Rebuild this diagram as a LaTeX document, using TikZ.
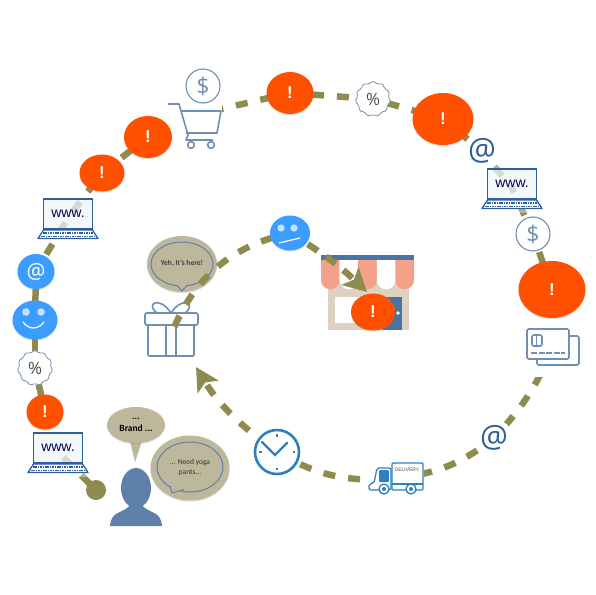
\documentclass[tikz,border=0pt]{standalone}
\usepackage{fontspec}
\setmainfont{Carlito}
\newfontfamily\labelfont{Liberation Sans}
\newfontfamily\iconfont{Open Sans}
\usetikzlibrary{arrows.meta, shapes.geometric, shadows}

\definecolor{flowc}{HTML}{8F8B4F}
\definecolor{bubblec}{HTML}{BDB89B}
\definecolor{alertc}{HTML}{FF5000}
\definecolor{facec}{HTML}{3B9DFF}
\definecolor{iconc}{HTML}{6F8FB3}
\definecolor{laptopc}{HTML}{2F5F9A}
\definecolor{screenc}{HTML}{EAF3FB}
\definecolor{clockc}{HTML}{2E7FBD}
\definecolor{personc}{HTML}{5F80A9}
\definecolor{salmonc}{HTML}{F4A18A}
\definecolor{beigec}{HTML}{DDD2C2}
\definecolor{storec}{HTML}{4A74A6}

\pgfdeclarelayer{back}
\pgfdeclarelayer{front}
\pgfsetlayers{back,main,front}

\tikzset{
    softshadow/.style={drop shadow={opacity=.25, shadow xshift=0pt, shadow yshift=-1.2pt}},
    flow/.style={draw=flowc, line width=6.5pt, dash pattern=on 12pt off 13pt},
    flowtip/.style={-{Stealth[length=23pt, width=24pt, inset=5pt]}},
    alertnode/.style 2 args={ellipse, fill=alertc, text=white, inner sep=0pt, minimum width=#1pt, minimum height=#2pt,
        font=\labelfont\bfseries\fontsize{17}{17}\selectfont, softshadow},
    facenode/.style 2 args={ellipse, fill=facec, inner sep=0pt, minimum width=#1pt, minimum height=#2pt, softshadow},
    atsign/.style={circle, fill=white, inner sep=0pt, minimum size=30pt, text=laptopc, font=\iconfont\fontsize{31}{31}\selectfont},
    burst/.style={star, star points=11, star point ratio=1.16, minimum size=36pt, inner sep=0pt, rounded corners=1.5pt,
        draw=iconc, line width=.8pt, fill=white, text=black!70, font=\iconfont\fontsize{17}{17}\selectfont},
    coin/.style={circle, draw=iconc, line width=1.1pt, fill=white, minimum size=34pt, inner sep=0pt, text=iconc,
        font=\iconfont\fontsize{23}{23}\selectfont},
    iconbox/.style 2 args={rectangle, inner sep=0pt, minimum width=#1pt, minimum height=#2pt},
    glassbox/.style={iconbox={66}{50}, fill=white, fill opacity=.35},
    bubble/.style 2 args={ellipse, fill=bubblec, inner sep=0pt, minimum width=#1pt, minimum height=#2pt, align=center,
        softshadow},
    bubbleline/.style={draw=personc, line width=1pt},
    iconline/.style={draw=iconc, line width=1.6pt, line join=round},
    laptop/.pic={
        \draw[laptopc, line width=1.6pt, fill=screenc, fill opacity=.6] (-24.5,-19) rectangle (24.5,11);
        \draw[laptopc, line width=1.3pt, fill=white, line join=round] (-24.5,12) -- (-30,20.5) -- (30,20.5) -- (24.5,12) -- cycle;
        \draw[laptopc, line width=1.8pt, dash pattern=on 1.6pt off .8pt] (-25,15) -- (25,15);
        \draw[laptopc, line width=1.8pt, dash pattern=on 1.6pt off .8pt] (-27,18.5) -- (27,18.5);
        \node[text=black!70!blue, font=\labelfont\fontsize{14}{14}\selectfont] (-www) at (0,-4) {www.};
    },
    cartpic/.pic={
        \draw[iconline] (-27,-11) -- (-16,-11) -- (-7,20) -- (-9,25) -- (18,25);
        \draw[iconline] (-13,-4) -- (26,-4) -- (22,18) -- (-9,18);
        \draw[iconline] (-4,30) circle (3.4);
        \draw[iconline] (16,30) circle (3.4);
    },
    cardspic/.pic={
        \draw[iconline, fill=white, rounded corners=1.5pt] (-16,-11) rectangle (26,18);
        \draw[iconline, fill=white, rounded corners=1.5pt] (-26,-18) rectangle (16,12);
        \draw[iconline, rounded corners=2pt] (-21,-12) rectangle (-11,-1);
        \draw[iconline, line width=1pt] (-17,-12) -- (-17,-1);
        \draw[iconline, dash pattern=on 6pt off 1.5pt] (-22,6) -- (12,6);
    },
    giftpic/.pic={
        \draw[iconline, rounded corners=1pt] (-23,-10) rectangle (23,21);
        \draw[iconline, fill=white, rounded corners=1.5pt] (-26,-22) rectangle (27,-10);
        \draw[iconline] (-5,-10) -- (-5,21);
        \draw[iconline] (5,-10) -- (5,21);
        \draw[iconline] (0,-22) .. controls (-12,-40) and (-26,-31) .. (-14,-22);
        \draw[iconline] (0,-22) .. controls (12,-40) and (26,-31) .. (14,-22);
    },
    storepic/.pic={
        \fill[beigec] (-39,-12) rectangle (42,38);
        \fill[white] (-32,5) rectangle (8,31);
        \fill[storec] (15,5) rectangle (35,38);
        \fill[white] (31,21) circle (1.8);
        \foreach \sx/\sc in {-46/salmonc, -27.4/white, -8.8/salmonc, 9.8/white, 28.4/salmonc}
            \fill[\sc] (\sx,-32) -- ++(18.6,0) -- ++(0,20) arc (0:180:9.3) -- cycle;
        \fill[storec] (-46,-37) rectangle (47,-32);
    },
    clockpic/.pic={
        \foreach \ang in {0,90,180,270}
            \draw[clockc, line width=1.6pt] (\ang:15.5) -- (\ang:18);
        \draw[clockc, line width=2.2pt, line cap=round] (-15,-10) -- (-2,3) -- (10,-9);
    },
    truckpic/.pic={
        \draw[clockc, line width=1.2pt, fill=white, rounded corners=1pt] (-4,-15) rectangle (27,12);
        \draw[clockc, line width=1.2pt, fill=white, rounded corners=2pt] (-5,12) -- (-27,12) -- (-27,6) -- (-22,5) -- (-19,-10) -- (-5,-10) -- cycle;
        \fill[clockc, rounded corners=1pt] (-17,-8) rectangle (-7,4);
        \draw[clockc, line width=1.2pt] (-4,6) -- (27,6);
        \foreach \wx in {-12,15} {
            \draw[clockc, line width=1.3pt, fill=white] (\wx,11) circle (5);
            \fill[clockc] (\wx,11) circle (2);
        }
        \node[text=black!70, font=\labelfont\fontsize{5}{5}\selectfont] (-txt) at (11,-8) {DELIVERY};
    },
}

\begin{document}
\begin{tikzpicture}[x=1pt, y=-1pt]
    \useasboundingbox (0,0) rectangle (596,594);

    % outer journey, the order of the nodes matters for what covers what
    \node[circle, fill=flowc, minimum size=20pt, inner sep=0pt] (dot) at (96,490) {};
    \node[glassbox] (laptopa) at (58,452) {};
    \pic at (laptopa) {laptop};
    \node[alertnode={37}{35}] (alerta) at (45,412) {!};
    \node[burst] (pcta) at (35,368) {\%};
    \node[facenode={45}{39}] (smile) at (35,320) {};
    \fill[white, opacity=.7] (26,312) circle (3.8) (41,312) circle (3.8);
    \draw[white, line width=1.2pt, line cap=round] (23,322) .. controls (29,330) and (38,330) .. (44,322);
    \node[facenode={37}{35}, text=white, font=\iconfont\fontsize{21}{21}\selectfont] (ata) at (36,271.5) {@};
    \node[glassbox] (laptopb) at (68,218) {};
    \pic at (laptopb) {laptop};
    \node[alertnode={45}{37}] (alertb) at (102,173) {!};
    \node[iconbox={54}{94}, fill=white] (cart) at (195,115) {};
    \pic at (cart) {cartpic};
    \node[coin] (dollara) at (203,86) {\$};
    \node[alertnode={48}{42}] (alertc) at (148,137) {!};
    \node[alertnode={47}{42}] (alertd) at (290,93) {!};
    \node[burst] (pctb) at (373,99) {\%};
    \node[atsign] (atb) at (482,151) {@};
    \node[alertnode={61}{52}] (alerte) at (443,119) {!};
    \node[glassbox] (laptopc) at (512,188) {};
    \pic at (laptopc) {laptop};
    \node[coin] (dollarb) at (533,234) {\$};
    \node[iconbox={56}{60}, fill=white] (cards) at (553,347) {};
    \pic at (cards) {cardspic};
    \node[alertnode={67}{57}] (alertf) at (552,289.5) {!};
    \node[atsign] (atc) at (494,438) {@};
    \node[iconbox={56}{33}, fill=white] (truck) at (396,478) {};
    \pic at (truck) {truckpic};
    \node[circle, draw=clockc, line width=2.6pt, fill=white, minimum size=44pt, inner sep=0pt, softshadow] (clock) at (277,452) {};
    \pic at (clock) {clockpic};
    \coordinate (cursor) at (196,367);

    % inner journey
    \node[iconbox={54}{56}] (gift) at (171,335) {};
    \pic at (gift) {giftpic};
    \node[bubble={70}{56}] (saidhere) at (182,264) {};
    \draw[bubbleline] (182,264) ellipse (31 and 22);
    \fill[bubblec] (177,285) -- (182,291) -- (187,285) -- cycle;
    \draw[bubbleline] (177,285.5) -- (182,291) -- (187,285.5);
    \node[font=\fontsize{7.5}{9}\selectfont\bfseries, text=black!75] (saidtext) at (182,263) {Yeh, it's here!};
    \node[iconbox={93}{75}] (store) at (367,292) {};
    \pic at (store) {storepic};
    \coordinate (storetip) at (367,292);

    \begin{pgfonlayer}{front}
        \node[facenode={40}{35}] (neutral) at (290,233) {};
        \fill[white, opacity=.7] (281,228) circle (3.6) (294,228) circle (3.6);
        \draw[white, line width=1.2pt] (279,243) -- (300,238);
        \node[alertnode={44}{37}] (alertg) at (373,312) {!};
    \end{pgfonlayer}

    % person and what they say
    \fill[personc] (110,526) .. controls (111,510) and (124,514) .. (131,504) -- (141,504)
        .. controls (148,514) and (161,510) .. (162,526) -- cycle;
    \fill[personc] (136,488) ellipse (15 and 20);
    \fill[bubblec] (130,441) -- (135,462) -- (142,441) -- cycle;
    \node[bubble={58}{36}, font=\fontsize{9.5}{12}\selectfont\bfseries] (saybrand) at (136,425) {...\\Brand ...};
    \node[bubble={79}{65}] (sayyoga) at (190,468) {};
    \draw[bubbleline] (190,467) ellipse (33 and 25);
    \fill[bubblec] (170,483) -- (172,493) -- (186,489) -- cycle;
    \draw[bubbleline] (170,486) -- (172,493) -- (184,489.5);
    \node[font=\fontsize{7.5}{10}\selectfont, align=center, text=black!80] (yogatext) at (190,467) {... Need yoga\\pants...};

    \begin{pgfonlayer}{back}
        \draw[flow, dash phase=16pt] (dot.center) -- (laptopa.center);
        \draw[flow, dash phase=9pt] (alerta.center) -- (pcta.center);
        \draw[flow, dash phase=8pt] (pcta.center) -- (smile.center);
        \draw[flow, dash phase=6pt] (smile.center) -- (ata.center);
        \draw[flow, dash phase=5pt] (ata.center) -- (laptopb.center);
        \draw[flow, dash phase=17pt] (laptopb.center) -- (alertb.center);
        \draw[flow, dash phase=0pt] (alertb.center) -- (alertc.center);
        \draw[flow] (alertc.center) -- (cart.center);
        \draw[flow, dash phase=8pt] (cart.center) -- (alertd.center);
        \draw[flow, dash phase=3pt] (alertd.center) -- (pctb.center);
        \draw[flow, dash phase=10pt] (pctb.center) -- (alerte.center);
        \draw[flow, dash phase=3pt] (alerte.center) -- (atb.center);
        \draw[flow, dash phase=5pt] (atb.center) -- (laptopc.center);
        \draw[flow, dash phase=7pt] (laptopc.center) -- (dollarb.center);
        \draw[flow, dash phase=6pt] (dollarb.center) -- (alertf.center);
        \draw[flow] (alertf.center) -- (cards.center);
        \draw[flow, dash phase=20pt] (cards.center) to[bend left=10] (atc.center);
        \draw[flow, dash phase=4pt] (atc.center) to[bend left=16] (truck.center);
        \draw[flow, dash phase=14pt] (truck.center) to[bend left=18] (clock.center);
    \end{pgfonlayer}
    \draw[flow, flowtip, dash phase=13pt] (clock) to[bend left=10] (cursor);
    \draw[flow, dash phase=16pt] (gift.center) to[bend left=28] (neutral.center);
    \draw[flow, flowtip, dash pattern=on 12pt off 10pt, dash phase=1pt] (neutral.center) to[bend left=6] (storetip);
\end{tikzpicture}
\end{document}
